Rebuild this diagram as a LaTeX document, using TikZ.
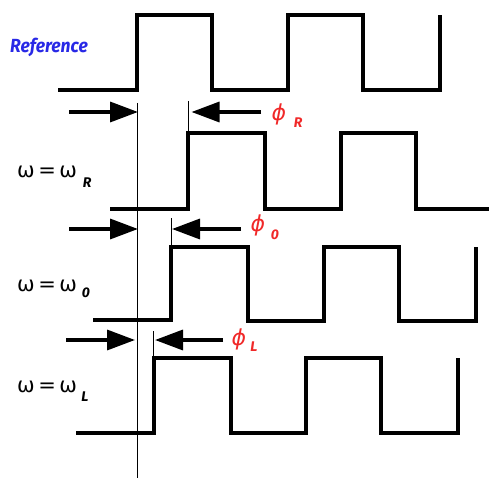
\documentclass[tikz,border=0pt]{standalone}
\usepackage{fontspec}
\newfontfamily\symfont{DejaVu Sans}
\newfontfamily\handfont{Fira Sans}
\usetikzlibrary{arrows.meta}
\definecolor{refblue}{RGB}{40,40,230}
\definecolor{phred}{RGB}{240,40,40}
\tikzset{
  wave/.style={line width=3.4pt, line join=miter, line cap=butt},
  thin/.style={line width=0.9pt},
  push/.style={line width=3.4pt, -{Triangle[length=28pt,width=20pt]}},
  omlabel/.style={inner sep=0pt, anchor=west, font=\symfont\fontsize{21}{21}\selectfont},
  sublabel/.style={inner sep=0pt, font=\handfont\bfseries\itshape\fontsize{14}{14}\selectfont},
  philabel/.style={inner sep=0pt, text=phred, font=\symfont\itshape\fontsize{22}{22}\selectfont},
  phisub/.style={inner sep=0pt, text=phred, font=\handfont\bfseries\itshape\fontsize{14}{14}\selectfont}
}
\begin{document}
\begin{tikzpicture}[x=1pt,y=-1pt]
\useasboundingbox (0,0) rectangle (489,478);
% waveforms
\draw[wave] (58,90) -| (137,15) -| (212,90) -| (288,15) -| (363,90) -| (440,15);
\draw[wave] (110,209) -| (188,133) -| (265,209) -| (341,133) -| (416,209) -- (489,209);
\draw[wave] (93,320) -| (171,247) -| (248,321) -| (324,247) -| (399,321) -| (476,247);
\draw[wave] (76,433) -| (154,358) -| (231,433) -| (306,358) -| (381,433) -| (458,358);
% reference vertical line
\coordinate (vt) at (137.7,103);
\coordinate (vb) at (137.7,478);
\draw[thin] (vt) -- (vb);
% marker lines
\coordinate (m1t) at (188,101); \coordinate (m1b) at (188,133);
\coordinate (m2t) at (171,218); \coordinate (m2b) at (171,247);
\coordinate (m3t) at (153,331); \coordinate (m3b) at (153,358);
\draw[thin] (m1t) -- (m1b);
\draw[thin] (m2t) -- (m2b);
\draw[thin] (m3t) -- (m3b);
% arrows
\coordinate (a1s) at (69,112);  \coordinate (a1e) at (138,112);
\coordinate (b1s) at (261,112); \coordinate (b1e) at (191.5,112);
\coordinate (a2s) at (69,229);  \coordinate (a2e) at (138,229);
\coordinate (b2s) at (241,229); \coordinate (b2e) at (172,229);
\coordinate (a3s) at (66,340);  \coordinate (a3e) at (135,340);
\coordinate (b3s) at (223,340); \coordinate (b3e) at (155,340);
\draw[push] (a1s) -- (a1e);
\draw[push] (b1s) -- (b1e);
\draw[push] (a2s) -- (a2e);
\draw[push] (b2s) -- (b2e);
\draw[push] (a3s) -- (a3e);
\draw[push] (b3s) -- (b3e);
% labels
\node[inner sep=0pt, text=refblue, font=\handfont\bfseries\itshape\fontsize{19}{19}\selectfont] (ref) at (49,47) {\scalebox{0.92}[1]{Reference}};
\node[omlabel] (w1) at (17,172) {ω\,=\,ω};
\node[sublabel] (s1) at (87,183) {R};
\node[omlabel] (w2) at (17,286) {ω\,=\,ω};
\node[sublabel] (s2) at (86,293) {0};
\node[omlabel] (w3) at (17,387) {ω\,=\,ω};
\node[sublabel] (s3) at (85,397) {L};
\node[philabel] (p1) at (279,114) {ϕ};
\node[phisub] (q1) at (298,123) {R};
\node[philabel] (p2) at (258,225) {ϕ};
\node[phisub] (q2) at (275,235) {0};
\node[philabel] (p3) at (239,339) {ϕ};
\node[phisub] (q3) at (254,347) {L};
\end{tikzpicture}
\end{document}
